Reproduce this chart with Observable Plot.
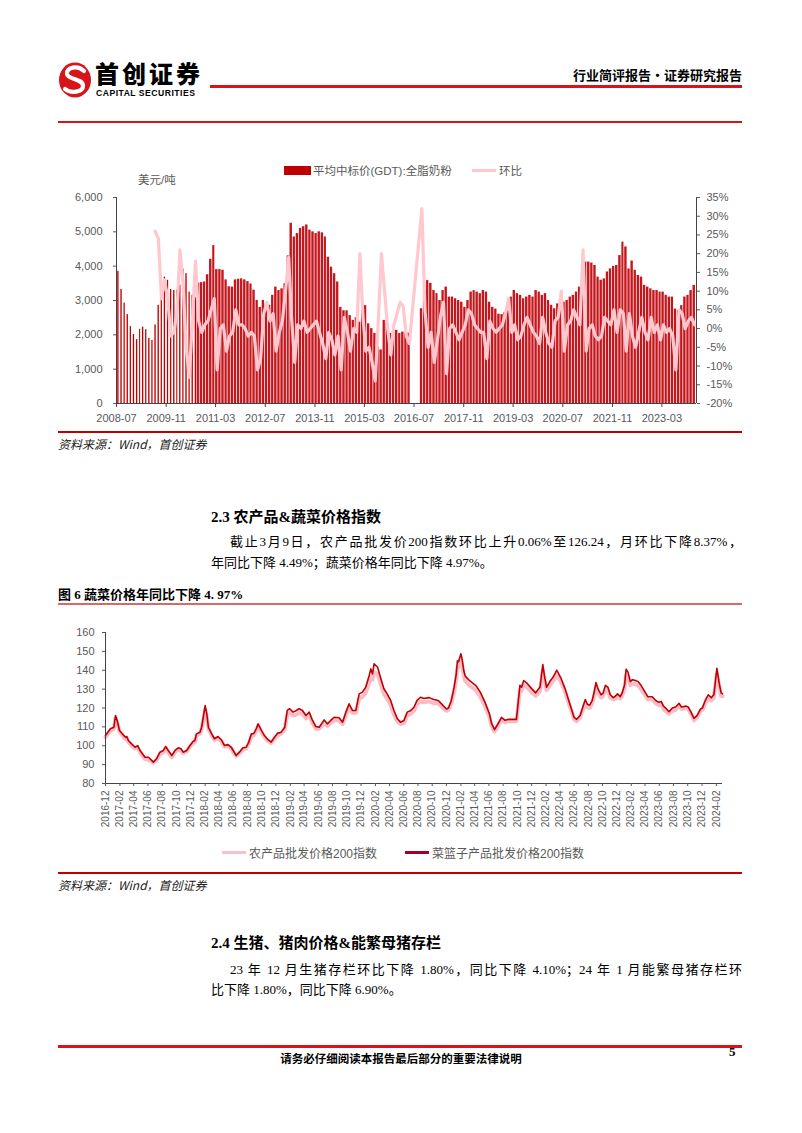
<!DOCTYPE html>
<html><head><meta charset="utf-8">
<script src="https://cdn.jsdelivr.net/npm/d3@7"></script>
<script src="https://cdn.jsdelivr.net/npm/@observablehq/plot@0.6"></script>
<style>
html,body{margin:0;padding:0;background:#fff;}
body{width:802px;height:1133px;position:relative;overflow:hidden;font-family:"Noto Sans CJK SC","Noto Sans",sans-serif;color:#000;}
.abs{position:absolute;white-space:nowrap;}
.rule{position:absolute;left:58px;width:684px;background:#c00000;}
.src{position:absolute;left:58px;font-size:12px;font-style:italic;color:#222;}
.h2{position:absolute;left:211px;font-size:15px;font-weight:bold;font-family:"Liberation Serif","Noto Sans CJK SC",serif;}
.p{position:absolute;left:211px;width:531px;font-size:13px;font-family:"Liberation Serif","Noto Sans CJK SC",serif;}
.just{text-align:justify;text-align-last:justify;}
.leg{position:absolute;font-size:12px;color:#595959;font-family:"Liberation Sans","Noto Sans CJK SC",sans-serif;}
</style></head><body>
<script>
// ---------- Chart 1 data: GDT whole milk powder average winning price (USD/t), monthly from 2008-07 ----------
const gdtStartMonth = "2008-07";
const gdtPrice = [
 3850,3320,2925,2590,2240,2010,1860,2160,2225,2150,
 1895,1840,2290,2860,3350,3680,3590,3320,3290,3300,
 3450,3915,3780,3245,3150,3080,3500,3520,3540,3750,
 4200,4600,3900,3900,3880,3600,3400,3390,3600,3620,
 3630,3600,3550,3480,3300,3000,2800,3000,2900,2860,
 3150,3390,3290,3340,3490,4300,5250,4850,4950,5100,
 5150,5200,5050,5000,4950,5000,4970,4850,4260,3970,
 3780,3540,2800,2700,2700,2560,2420,2500,2370,2900,
 2850,2320,2180,2040,1650,1560,2420,2330,2040,2080,
 2130,2040,2080,2050,2050,null,null,null,2760,3150,
 3580,3500,3290,3200,3000,3290,3390,3100,3100,3050,
 3000,2950,2800,3000,3245,3290,3245,3200,3290,3245,
 2950,2800,2750,2600,2590,2650,2700,3100,3290,3200,
 3150,3050,3100,3150,3100,3290,3245,3150,3200,3000,
 2860,2760,2900,3000,2950,3000,3100,3150,3245,3390,
 3540,4120,4120,4090,4020,3680,3590,3630,3830,3920,
 3990,4020,4310,4700,4560,3920,4150,3880,3730,3680,
 3440,3390,3340,3290,3290,3245,3245,3150,3100,3100,
 2750,2700,2850,3100,3150,3290,3440
];
// month-on-month change (%)
const gdtMoM = [
 null,null,null,null,null,null,null,null,null,null,
 null,null,26,24,8,13,8,-2,-1,5,
 21,12,-5,-13,2,18,2,-1,1,2,
 5,8,-11,0,1,-6,-2,-1,5,1,
 1,0,-2,-1,-2,-11,-8,4,7,2,
 4,-6,-1,2,10,19,3,-9,1,0,
 2,-1,0,1,2,-1,-4,-8,-1,-3,
 -7,-2,-11,3,-1,-6,0,-1,20,3,
 -6,-5,-9,-14,2,20,10,0,-7,1,
 4,7,6,-2,-4,null,null,null,32,5,
 -5,-1,-9,-3,3,7,-12,0,1,-1,
 -3,-1,1,5,4,1,0,-1,-1,-8,
 2,0,-1,0,1,4,8,-1,1,-3,
 -2,1,3,1,-1,-2,-4,3,-1,-4,
 -5,2,3,10,-6,1,2,5,3,1,
 21,-6,0,1,-2,-3,-2,3,2,1,
 5,-1,5,4,-6,4,-2,-5,-1,3,
 -1,-3,3,-1,1,-3,1,-1,0,-2,
 -11,5,4,0,2,3,1
];
const gdtTickLabels = ["2008-07","2009-11","2011-03","2012-07","2013-11","2015-03","2016-07","2017-11","2019-03","2020-07","2021-11","2023-03"];
const gdtLeftTicks = [0,1000,2000,3000,4000,5000,6000];
const gdtRightTicks = [-20,-15,-10,-5,0,5,10,15,20,25,30,35];

// ---------- Chart 2 data: wholesale price 200 indices ----------
const vegDates = [
"2016-12-01","2016-12-22","2017-01-06","2017-01-13","2017-01-20","2017-01-30","2017-02-11","2017-02-25","2017-03-02","2017-03-09",
"2017-03-23","2017-04-07","2017-04-18","2017-04-28","2017-05-19","2017-06-03","2017-06-10","2017-06-24","2017-07-08","2017-07-22",
"2017-08-06","2017-08-16","2017-08-27","2017-09-11","2017-09-25","2017-10-09","2017-10-20","2017-10-30","2017-11-14","2017-11-28",
"2017-12-12","2017-12-19","2017-12-26","2018-01-10","2018-01-17","2018-01-24","2018-02-01","2018-02-08","2018-02-15","2018-03-01",
"2018-03-13","2018-03-28","2018-04-11","2018-04-25","2018-05-10","2018-05-24","2018-06-07","2018-06-14","2018-06-28","2018-07-13",
"2018-07-27","2018-08-07","2018-08-18","2018-08-29","2018-09-08","2018-09-16","2018-09-30","2018-10-13","2018-10-28","2018-11-11",
"2018-11-25","2018-12-09","2018-12-24","2019-01-08","2019-01-19","2019-01-29","2019-02-13","2019-02-27","2019-03-11","2019-03-25",
"2019-04-09","2019-04-23","2019-05-07","2019-05-21","2019-06-05","2019-06-26","2019-07-10","2019-07-24","2019-08-08","2019-08-29",
"2019-09-13","2019-09-27","2019-10-11","2019-10-25","2019-11-09","2019-11-23","2019-12-07","2019-12-21","2020-01-05","2020-01-12",
"2020-01-19","2020-01-26","2020-02-10","2020-02-24","2020-03-08","2020-03-22","2020-04-06","2020-04-20","2020-05-04","2020-05-18",
"2020-06-02","2020-06-16","2020-07-01","2020-07-15","2020-07-28","2020-08-12","2020-08-26","2020-09-18","2020-10-07","2020-10-27",
"2020-11-15","2020-12-01","2020-12-10","2020-12-22","2021-01-03","2021-01-12","2021-01-17","2021-01-22","2021-02-01","2021-02-06",
"2021-02-13","2021-02-19","2021-03-09","2021-04-06","2021-04-25","2021-05-15","2021-06-03","2021-06-12","2021-06-25","2021-07-07",
"2021-07-25","2021-08-09","2021-08-25","2021-09-27","2021-10-12","2021-10-19","2021-10-28","2021-11-12","2021-12-03","2021-12-18",
"2021-12-27","2022-01-06","2022-01-18","2022-01-25","2022-02-03","2022-02-17","2022-03-01","2022-03-10","2022-03-19","2022-04-05",
"2022-04-24","2022-05-09","2022-05-22","2022-06-01","2022-06-12","2022-06-27","2022-07-10","2022-07-19","2022-07-28","2022-08-07",
"2022-08-18","2022-08-27","2022-09-03","2022-09-12","2022-09-25","2022-10-04","2022-10-13","2022-10-24","2022-11-03","2022-11-16",
"2022-11-27","2022-12-04","2022-12-16","2022-12-24","2023-01-03","2023-01-10","2023-01-18","2023-01-28","2023-02-06","2023-02-20",
"2023-03-02","2023-03-15","2023-04-03","2023-04-13","2023-05-02","2023-05-17","2023-05-31","2023-06-09","2023-06-19","2023-07-02",
"2023-07-13","2023-07-27","2023-08-10","2023-08-25","2023-09-04","2023-09-24","2023-10-03","2023-10-16","2023-10-28","2023-11-10",
"2023-11-25","2023-12-03","2023-12-15","2023-12-28","2024-01-10","2024-01-21","2024-02-03","2024-02-13","2024-02-21","2024-02-27"
];
const basketIndex = [
105.4,109,109.8,116,113.4,108.1,106.3,104.5,104.9,102.8,
101,99.2,100.1,97.5,93.9,93.9,93.1,91.3,93.1,96.6,
97.5,99.6,97.5,94.8,97.5,98.9,98.4,96.6,97.5,100.1,
102.4,102.8,106.3,107.2,109.8,115.1,121.3,116.9,109.8,106.3,
103.7,104.9,103.2,100.1,100.6,99.2,96.3,94.8,96.6,98.9,
99.2,101.9,106.3,106.5,109,111.6,108.1,105.4,103.2,101.9,
104.5,106.7,107.2,109.8,118.7,119.6,117.8,118.7,119.6,118.7,
116,117.8,113.4,110.2,109.8,113.7,111.6,113.4,115.1,114.8,
112.5,117.8,122.2,118.7,118.7,127.5,128.4,131,137.2,140.7,
138,143.4,141.6,135.5,130.2,127.5,124,118.7,114.4,112.5,
113.4,117.8,118.7,120.4,124,125.7,125,125.5,124.5,124,
121.5,119.5,120,124,131,138,145,144.5,148.7,146,
140,137,134.6,131.9,128.4,123.1,117,112,108.5,111,
115,113.5,114,114,132,131,134.5,133,130,128,
129.5,131,143,137,131,134,136,138,140,136,
130,124,119,115,114,116,121,124.5,122,121.5,
124,129,133.5,130,127,128,132,131,127,125.5,
126.5,127.5,126,128,132,140.5,139,134,135,134.5,
134,132,128,126,126,124,123,123.5,121,119.5,
118,120,120.5,122.5,120.5,121,120.5,117.5,114.5,116,
119.5,120,124,127,125.5,127,141,133,128,127.5
];
const agriIndex = [
104.5,108,109,114.5,112.5,107.5,105.5,103.5,104,102,
100,98.5,99,96.5,93,92.5,92,91,92.5,95.5,
96.5,98.5,96.5,94,96.5,98,97.5,96,97,99.5,
101.5,102,105.5,106.5,109,113.5,119,115.5,109,105.5,
103,104,102.5,99.5,100,98.5,95.5,94.5,96,98,
98.5,101,105,105.5,108,110.5,107,104.5,102.5,101.5,
103.5,105.5,106.5,108.5,116.5,117.5,116,116.5,117.5,117,
114.5,116,112,109,109,112,110.5,112,113.5,113.5,
111.5,116,120,117.5,117.5,125,126,128,133.5,136.5,
135,139,138,132.5,127.5,125,121.5,116.5,113,111.5,
112,116,117,118.5,122,123.5,123,123.5,122.5,122.5,
120,118.5,119,122.5,128.5,135,141.5,141.5,145,143,
137.5,134.5,132,129.5,126,121,115.5,110.5,107.5,110,
113.5,112.5,113,113,129.5,129,132,131,128,126.5,
127.5,129,140,135,129.5,132,134,135.5,137.5,134,
128.5,122.5,118,114,113,115,119.5,122.5,120.5,120,
122.5,127,131,128,125.5,126.5,130,129,125.5,124.5,
125,126,125,126.5,130,137.5,136.5,132,133,132.5,
132,130,126.5,124.5,124.5,122.5,121.5,122,119.5,118,
117,118.5,119,121,119.5,120,119.5,116.5,113.5,115,
118.5,119,122.5,125,124,125.5,138,131.5,126.5,126.2
];
const vegTickLabels = ["2016-12","2017-02","2017-04","2017-06","2017-08","2017-10","2017-12","2018-02","2018-04","2018-06","2018-08","2018-10","2018-12",
"2019-02","2019-04","2019-06","2019-08","2019-10","2019-12","2020-02","2020-04","2020-06","2020-08","2020-10","2020-12",
"2021-02","2021-04","2021-06","2021-08","2021-10","2021-12","2022-02","2022-04","2022-06","2022-08","2022-10","2022-12",
"2023-02","2023-04","2023-06","2023-08","2023-10","2023-12","2024-02"];
const vegYTicks = [80,90,100,110,120,130,140,150,160];
</script>

<!-- header -->
<svg class="abs" style="left:58px;top:61px" width="36" height="38" viewBox="0 0 36 38">
  <ellipse cx="17" cy="19" rx="16" ry="17.5" fill="#d7141a"/>
  <path d="M26 10 C20 4,8 6,9 13 C10 19,25 17,25 25 C25 31,13 33,7 28" stroke="#fff" stroke-width="4.2" fill="none" stroke-linecap="round"/>
</svg>
<div class="abs" style="left:95px;top:60px;font-size:24px;font-weight:900;letter-spacing:3px;line-height:26px;">首创证券</div>
<div class="abs" style="left:96px;top:88px;font-size:8.6px;line-height:10px;font-weight:bold;font-family:'Liberation Sans',sans-serif;letter-spacing:0.5px;">CAPITAL SECURITIES</div>
<div class="abs" style="left:210px;top:85px;width:532px;height:2.5px;background:#d7141a"></div>
<div class="abs" style="right:60px;top:66px;font-size:13px;font-weight:bold;line-height:18px;">行业简评报告·证券研究报告</div>
<div class="rule" style="top:121px;height:2px;background:#d7141a"></div>

<!-- chart 1 -->
<div id="c1" class="abs" style="left:58px;top:160px"></div>
<div class="leg" style="left:284px;top:166px;width:27px;height:9px;background:#c00000"></div>
<div class="leg" style="left:313px;top:162px;font-size:11.5px">平均中标价(GDT):全脂奶粉</div>
<div class="leg" style="left:472px;top:169px;width:24px;height:3px;background:#ffc7ce"></div>
<div class="leg" style="left:499px;top:162px;font-size:11.5px">环比</div>
<div class="leg" style="left:138px;top:171px;font-size:11.5px">美元/吨</div>
<div class="rule" style="top:431px;height:1.5px"></div>
<div class="src" style="top:435px">资料来源：Wind，首创证券</div>

<!-- section 2.3 -->
<div class="h2" style="top:505px">2.3 农产品&amp;蔬菜价格指数</div>
<div class="p just" style="top:531px;left:230px;width:512px">截止3月9日，农产品批发价200指数环比上升0.06%至126.24，月环比下降8.37%，</div>
<div class="p" style="top:552px">年同比下降 4.49%；蔬菜价格年同比下降 4.97%。</div>
<div class="abs" style="left:58px;top:584px;font-size:13px;font-weight:bold;font-family:'Liberation Serif','Noto Sans CJK SC',serif">图 6 蔬菜价格年同比下降 4. 97%</div>
<div class="rule" style="top:603px;height:2px;background:#d46a6a"></div>

<!-- chart 2 -->
<div id="c2" class="abs" style="left:58px;top:620px"></div>
<div class="leg" style="left:222px;top:851px;width:24px;height:3px;background:#f7c1ca"></div>
<div class="leg" style="left:249px;top:844px">农产品批发价格200指数</div>
<div class="leg" style="left:405px;top:851px;width:24px;height:3px;background:#a8001c"></div>
<div class="leg" style="left:432px;top:844px">菜篮子产品批发价格200指数</div>
<div class="rule" style="top:872px;height:1.5px"></div>
<div class="src" style="top:876px">资料来源：Wind，首创证券</div>

<!-- section 2.4 -->
<div class="h2" style="top:931px">2.4 生猪、猪肉价格&amp;能繁母猪存栏</div>
<div class="p just" style="top:959px;left:230px;width:512px">23 年 12 月生猪存栏环比下降 1.80%，同比下降 4.10%；24 年 1 月能繁母猪存栏环</div>
<div class="p" style="top:979px">比下降 1.80%，同比下降 6.90%。</div>

<!-- footer -->
<div class="rule" style="top:1045px;height:3px;background:#d7141a"></div>
<div class="abs" style="left:0;width:802px;text-align:center;top:1050px;font-size:11.5px;font-weight:bold;">请务必仔细阅读本报告最后部分的重要法律说明</div>
<div class="abs" style="left:729px;top:1044px;font-size:13px;font-weight:bold;font-family:'Liberation Serif',serif">5</div>

<script>
const numFont = "'Liberation Sans','Noto Sans CJK SC',sans-serif";
// ----- chart 1 -----
const [sy, sm] = gdtStartMonth.split("-").map(Number);
const gdtStart = new Date(Date.UTC(sy, sm - 1, 1));
const gdtData = gdtPrice.map((v, i) => ({date: d3.utcMonth.offset(gdtStart, i), v, mom: gdtMoM[i], i}));
const toLeft = p => (p + 20) * 6000 / 55;
const fromLeft = v => Math.round(v * 55 / 6000 - 20);
const x1Domain = [gdtStart, new Date(Date.UTC(2024, 1, 4))];
const parseYM = s => new Date(s + "-01T00:00:00Z");

const chart1 = Plot.plot({
  width: 684, height: 270,
  marginLeft: 58, marginRight: 46, marginTop: 37, marginBottom: 27,
  style: {fontFamily: numFont, fontSize: "11px", color: "#595959", background: "transparent"},
  x: {type: "utc", domain: x1Domain, label: null},
  y: {domain: [0, 6000], label: null},
  marks: [
    Plot.rectY(gdtData.filter(d => d.v != null && d.i < 26), {x: "date", y: "v", interval: d3.utcMonth, fill: "#c00000", insetLeft: 1.2, insetRight: 0.6}),
    Plot.rectY(gdtData.filter(d => d.v != null && d.i >= 26), {x: "date", y: "v", interval: d3.utcMonth, fill: "#c4161c", insetLeft: 0, insetRight: 0.75}),
    Plot.line(gdtData.filter(d => d.mom != null), {x: d => d3.utcDay.offset(d.date, 15), y: d => toLeft(d.mom), stroke: "#ffc7ce", strokeWidth: 3.2, curve: "linear"}),
    Plot.ruleX([x1Domain[0]], {stroke: "#444"}),
    Plot.ruleX([x1Domain[1]], {stroke: "#444"}),
    Plot.ruleY([0], {stroke: "#444"}),
    Plot.axisX(gdtTickLabels.map(parseYM), {tickFormat: d3.utcFormat("%Y-%m"), tickSize: 4, tickPadding: 7, label: null, stroke: "#444"}),
    Plot.axisY(gdtLeftTicks, {anchor: "left", tickFormat: d3.format(","), tickSize: 3, tickPadding: 11, label: null}),
    Plot.axisY(gdtRightTicks.map(toLeft), {anchor: "right", tickFormat: v => fromLeft(v) + "%", tickSize: 3, tickPadding: 7, label: null})
  ]
});
document.getElementById("c1").appendChild(chart1);

// ----- chart 2 -----
const vegData = vegDates.map((s, i) => ({date: new Date(s + "T00:00:00Z"), basket: basketIndex[i], agri: agriIndex[i]}));
const x2Domain = [vegData[0].date, vegData[vegData.length - 1].date];
const chart2 = Plot.plot({
  width: 684, height: 212,
  marginLeft: 47, marginRight: 20, marginTop: 12, marginBottom: 49,
  style: {fontFamily: numFont, fontSize: "10px", color: "#595959", background: "transparent"},
  x: {type: "utc", domain: x2Domain, label: null},
  y: {domain: [80, 160], label: null},
  marks: [
    Plot.line(vegData, {x: "date", y: "agri", stroke: "#f7bcc6", strokeWidth: 4}),
    Plot.line(vegData, {x: "date", y: "basket", stroke: "#c00000", strokeWidth: 1.6}),
    Plot.ruleX([x2Domain[0]], {stroke: "#444"}),
    Plot.ruleY([80], {stroke: "#444"}),
    Plot.axisX(vegTickLabels.map(parseYM), {tickFormat: d3.utcFormat("%Y-%m"), tickRotate: -90, tickSize: 3, tickPadding: 4, label: null}),
    Plot.axisY(vegYTicks, {anchor: "left", tickSize: 3, tickPadding: 8, label: null, fontSize: 11})
  ]
});
document.getElementById("c2").appendChild(chart2);
</script>
</body></html>
